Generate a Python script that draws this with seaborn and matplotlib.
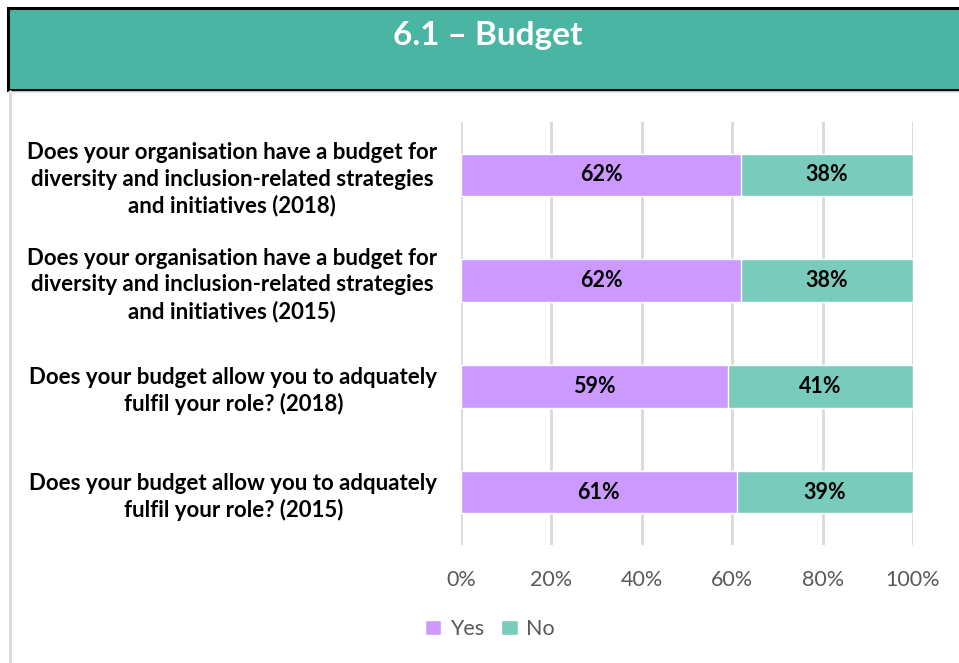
import matplotlib
matplotlib.use("Agg")
import matplotlib.pyplot as plt
from matplotlib.patches import Rectangle, Patch
import pandas as pd
import seaborn as sns

questions = [
    "Does your organisation have a budget for\ndiversity and inclusion-related strategies\nand initiatives (2018)",
    "Does your organisation have a budget for\ndiversity and inclusion-related strategies\nand initiatives (2015)",
    "Does your budget allow you to adquately\nfulfil your role? (2018)",
    "Does your budget allow you to adquately\nfulfil your role? (2015)",
]
yes_pct = [62, 62, 59, 61]
no_pct = [38, 38, 41, 39]
x_ticks = [0, 20, 40, 60, 80, 100]
x_tick_labels = ["0%", "20%", "40%", "60%", "80%", "100%"]
title = "6.1 – Budget"

YES_COLOR = "#CC99FF"
NO_COLOR = "#79CBBC"
HEADER_COLOR = "#4AB5A3"
GRID_COLOR = "#D9D9D9"
TEXT_GRAY = "#595959"

sns.set_theme(style="white")
plt.rcParams["font.family"] = ["Lato", "DejaVu Sans"]

df = pd.DataFrame({"question": questions, "Yes": yes_pct, "No": no_pct})
df["total"] = df["Yes"] + df["No"]

fig = plt.figure(figsize=(9.59, 6.63), dpi=100)
fig.patch.set_facecolor("white")

# header band with title
fig.patches.append(Rectangle((8 / 959, 1 - 90 / 663), 1.0, 82 / 663,
                             transform=fig.transFigure, facecolor=HEADER_COLOR,
                             edgecolor="black", linewidth=2.2, zorder=1))
fig.lines.append(plt.Line2D([9.5 / 959, 9.5 / 959], [0, 1 - 91 / 663],
                            transform=fig.transFigure, color=GRID_COLOR, lw=2))
fig.lines.append(plt.Line2D([9 / 959, 1], [1 - 91.5 / 663, 1 - 91.5 / 663],
                            transform=fig.transFigure, color="#E6E6E6", lw=1.2))
fig.text(488 / 959, 1 - 36 / 663, title, ha="center", va="center",
         color="white", fontsize=24, fontweight="bold")

ax = fig.add_axes([461 / 959, 118 / 663, 452 / 959, 423 / 663])

# stacked bars: full total in "No" colour, "Yes" drawn over it
sns.barplot(data=df, y="question", x="total", color=NO_COLOR, orient="h",
            width=0.4, ax=ax, saturation=1, zorder=2)
sns.barplot(data=df, y="question", x="Yes", color=YES_COLOR, orient="h",
            width=0.4, ax=ax, saturation=1, zorder=3)

for i, (y, n) in enumerate(zip(yes_pct, no_pct)):
    ax.text(y / 2, i, f"{y}%", ha="center", va="center", fontsize=15.5,
            fontweight="bold", color="black", zorder=4)
    ax.text(y + n / 2, i, f"{n}%", ha="center", va="center", fontsize=15.5,
            fontweight="bold", color="black", zorder=4)

ax.set_xlim(0, 100)
ax.set_ylim(3.5, -0.5)
ax.set_xticks(x_ticks)
ax.set_xticklabels(x_tick_labels, color=TEXT_GRAY, fontsize=15.5)
ax.tick_params(axis="x", length=0, pad=18)
ax.tick_params(axis="y", length=0, pad=17)
ax.set_yticks(range(len(questions)))
ax.set_yticklabels(questions, fontsize=16, fontweight="bold", color="black",
                   multialignment="center", linespacing=1.3)
ax.set_xlabel("")
ax.set_ylabel("")
for s in ax.spines.values():
    s.set_visible(False)
ax.grid(axis="x", color=GRID_COLOR, linewidth=2, zorder=0)
ax.set_axisbelow(True)

handles = [Patch(facecolor=YES_COLOR, label="Yes"),
           Patch(facecolor=NO_COLOR, label="No")]
fig.legend(handles=handles, loc="center", bbox_to_anchor=(490 / 959, 1 - 629 / 663),
           ncol=2, frameon=False, fontsize=15.5, handlelength=0.75, handleheight=0.75,
           handletextpad=0.4, columnspacing=0.8, labelcolor=TEXT_GRAY)

fig.savefig("out.png", dpi=100, facecolor="white")
